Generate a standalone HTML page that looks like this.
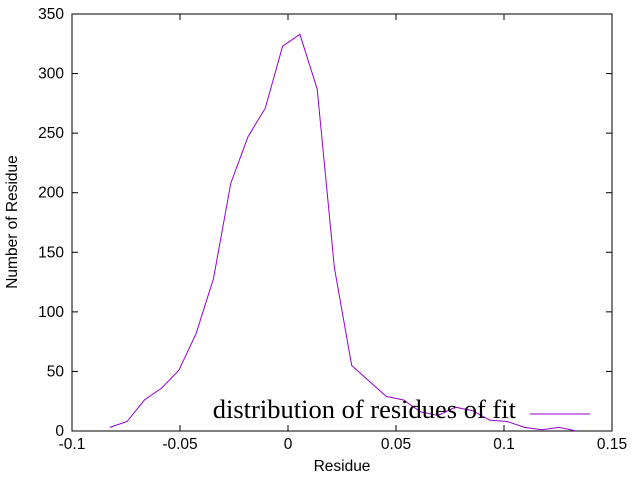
<!DOCTYPE html>
<html><head><meta charset="utf-8"><style>
html,body{margin:0;padding:0;background:#fff;width:640px;height:480px;overflow:hidden}
svg text{font-family:"Liberation Sans",sans-serif;font-size:15.5px;fill:#000}
</style></head><body>
<svg id="chart" width="640" height="480" xmlns="http://www.w3.org/2000/svg"></svg>
<script>
const xValues=[-0.0825,-0.0745,-0.0665,-0.0585,-0.0505,-0.0425,-0.0345,-0.0265,-0.0185,-0.0105,-0.0025,0.0055,0.0135,0.0215,0.0295,0.0375,0.0455,0.0535,0.0615,0.0695,0.0775,0.0855,0.0935,0.1015,0.1095,0.1175,0.1255,0.1335];
const yValues=[3,8,26,36,51,82,128,208,247,271,323,333,287,137,55,42,29,26,16,13,20,17,9,8,3,1,3,0];
const xTicks=[-0.1,-0.05,0,0.05,0.1,0.15];
const xTickLabels=["-0.1","-0.05","0","0.05","0.1","0.15"];
const yTicks=[0,50,100,150,200,250,300,350];
const yTickLabels=["0","50","100","150","200","250","300","350"];
const L=72,R=612,T=14,B=431;
const sx=v=>L+(v-(-0.1))/(0.25)*(R-L);
const sy=v=>B-v/350*(B-T);
const svg=document.getElementById('chart');
const NS='http://www.w3.org/2000/svg';
function mk(tag,attrs,parent){const e=document.createElementNS(NS,tag);for(const k in attrs)e.setAttribute(k,attrs[k]);(parent||svg).appendChild(e);return e;}
const frame=mk('rect',{x:L,y:T,width:R-L,height:B-T,fill:'none',stroke:'#000','stroke-width':1});


xTicks.forEach((v,i)=>{
  const x=sx(v);
  const t1=mk('line',{x1:x,y1:B,x2:x,y2:B-6,stroke:'#000'});
  
  
  const t2=mk('line',{x1:x,y1:T,x2:x,y2:T+6,stroke:'#000'});
  
  
  const tx=mk('text',{x:x,y:B+18,'text-anchor':'middle'});
  tx.textContent=xTickLabels[i];
  
  
});
yTicks.forEach((v,i)=>{
  const y=sy(v);
  const t1=mk('line',{x1:L,y1:y,x2:L+6,y2:y,stroke:'#000'});
  
  
  const t2=mk('line',{x1:R,y1:y,x2:R-6,y2:y,stroke:'#000'});
  
  
  const tx=mk('text',{x:L-8,y:y+5,'text-anchor':'end'});
  tx.textContent=yTickLabels[i];
  
  
});
const xt=mk('text',{x:342,y:471,'text-anchor':'middle'});
xt.textContent='Residue';


const yt=mk('text',{x:17,y:222,'text-anchor':'middle',transform:'rotate(-90 17 222)'});
yt.textContent='Number of Residue';


const pts=xValues.map((v,i)=>sx(v).toFixed(1)+','+sy(yValues[i]).toFixed(1)).join(' ');
const line=mk('polyline',{points:pts,fill:'none',stroke:'#9400d3','stroke-width':1});


const lt=mk('text',{x:516,y:418,'text-anchor':'end',style:'font-family:"Liberation Serif",serif;font-size:26.5px'});
lt.textContent='distribution of residues of fit';


const ls=mk('line',{x1:530,y1:414,x2:590,y2:414,stroke:'#9400d3','stroke-width':1});


</script>
</body></html>
